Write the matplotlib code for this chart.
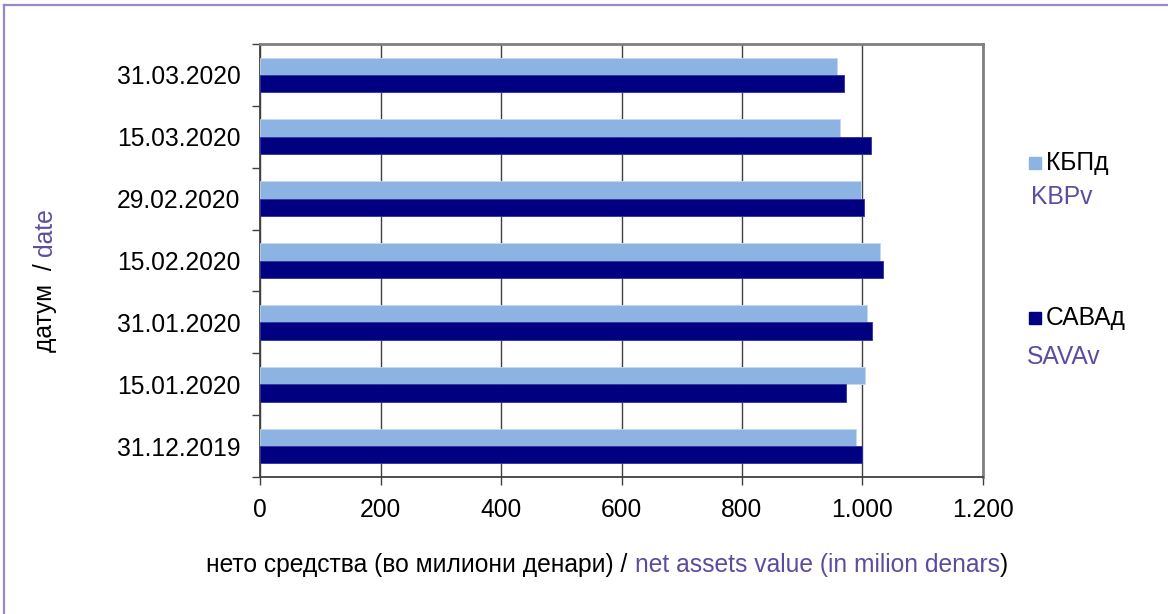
import matplotlib
matplotlib.use("Agg")
import matplotlib.pyplot as plt
import numpy as np
from matplotlib.lines import Line2D
from matplotlib.patches import Rectangle
from matplotlib.ticker import FixedLocator

plt.rcParams['font.family'] = ['Liberation Sans', 'DejaVu Sans']

# ---- data ----
dates = ["31.12.2019", "15.01.2020", "31.01.2020", "15.02.2020",
         "29.02.2020", "15.03.2020", "31.03.2020"]
kbp = [989, 1004, 1007, 1029, 997, 963, 957]      # КБПд / KBPv
sava = [999, 973, 1016, 1034, 1002, 1014, 969]    # САВАд / SAVAv
x_ticks = [0, 200, 400, 600, 800, 1000, 1200]
x_tick_labels = ["0", "200", "400", "600", "800", "1.000", "1.200"]

LIGHT = "#8DB3E2"
DARK = "#000080"
PURPLE = "#5F4B9E"
FS = 17.7

W, H = 1168, 614
fig = plt.figure(figsize=(W / 100, H / 100), dpi=100)
ax = fig.add_axes([260 / W, 1 - 477 / H, (983 - 260) / W, (477 - 44) / H])

y = np.arange(len(dates))
bh = 0.28
ax.barh(y + bh / 2, kbp, height=bh, color=LIGHT, edgecolor="#C6D9F1", linewidth=0.6, zorder=3)
ax.barh(y - bh / 2, sava, height=bh, color=DARK, edgecolor="#3030A0", linewidth=0.6, zorder=3)

ax.set_xlim(0, 1200)
ax.set_ylim(-0.5, len(dates) - 0.5)
ax.xaxis.set_major_locator(FixedLocator(x_ticks))
ax.set_xticklabels(x_tick_labels, fontsize=FS)
ax.set_yticks(y)
ax.set_yticklabels(dates, fontsize=FS)
ax.set_yticks(np.arange(-0.5, len(dates), 1.0), minor=True)
ax.tick_params(axis='y', which='major', length=0, pad=14)
ax.tick_params(axis='y', which='minor', length=6, width=1, color="#404040", direction='out')
ax.tick_params(axis='x', which='major', length=6, width=1, color="#404040", direction='out', pad=9)
ax.grid(axis='x', color="#404040", linewidth=1, zorder=1)
ax.set_axisbelow(True)
for s in ("left", "bottom"):
    ax.spines[s].set_color("#404040")
    ax.spines[s].set_linewidth(1.3)
for s in ("top", "right"):
    ax.spines[s].set_color("#808080")
    ax.spines[s].set_linewidth(2)

# outer frame (clipped at right and bottom)
fig.add_artist(Line2D([4 / W, 1], [1 - 5 / H, 1 - 5 / H], color="#9B87C4", lw=1.6))
fig.add_artist(Line2D([4 / W, 4 / W], [1 - 5 / H, 0], color="#9B87C4", lw=1.6))

fig.canvas.draw()
renderer = fig.canvas.get_renderer()

def multicolor_h(parts, x0, yc):
    x = x0
    for txt, col in parts:
        t = fig.text(x / W, 1 - yc / H, txt, color=col, fontsize=FS, ha='left', va='center')
        bb = t.get_window_extent(renderer)
        x += bb.width

def multicolor_v(parts, xc, y0):
    yy = y0
    for txt, col in parts:
        t = fig.text(xc / W, 1 - yy / H, txt, color=col, fontsize=FS, ha='center', va='bottom', rotation=90)
        bb = t.get_window_extent(renderer)
        yy -= bb.height

# x label
xparts = [("нето средства (во милиони денари) / ", "black"),
          ("net assets value (in milion denars", PURPLE),
          (")", "black")]
tot = 0
for txt, col in xparts:
    t = fig.text(0, 0, txt, fontsize=FS)
    tot += t.get_window_extent(renderer).width
    t.remove()
multicolor_h(xparts, 607 - tot / 2, 565)

# y label
yparts = [("датум  / ", "black"), ("date", PURPLE)]
tot = 0
for txt, col in yparts:
    t = fig.text(0, 0, txt, fontsize=FS, rotation=90)
    tot += t.get_window_extent(renderer).height
    t.remove()
multicolor_v(yparts, 45, 280 + tot / 2)

# legend
fig.add_artist(Rectangle((1029 / W, 1 - 169 / H), 12 / W, 12 / H, color=LIGHT, transform=fig.transFigure))
fig.text(1046 / W, 1 - 163 / H, "КБПд", fontsize=FS, va='center', ha='left')
fig.text(1031 / W, 1 - 197 / H, "KBPv", fontsize=FS, va='center', ha='left', color=PURPLE)
fig.add_artist(Rectangle((1029 / W, 1 - 324 / H), 12 / W, 12 / H, color=DARK, transform=fig.transFigure))
fig.text(1046 / W, 1 - 318 / H, "САВАд", fontsize=FS, va='center', ha='left')
fig.text(1027 / W, 1 - 357 / H, "SAVAv", fontsize=FS, va='center', ha='left', color=PURPLE)

fig.savefig("out.png", dpi=100)
